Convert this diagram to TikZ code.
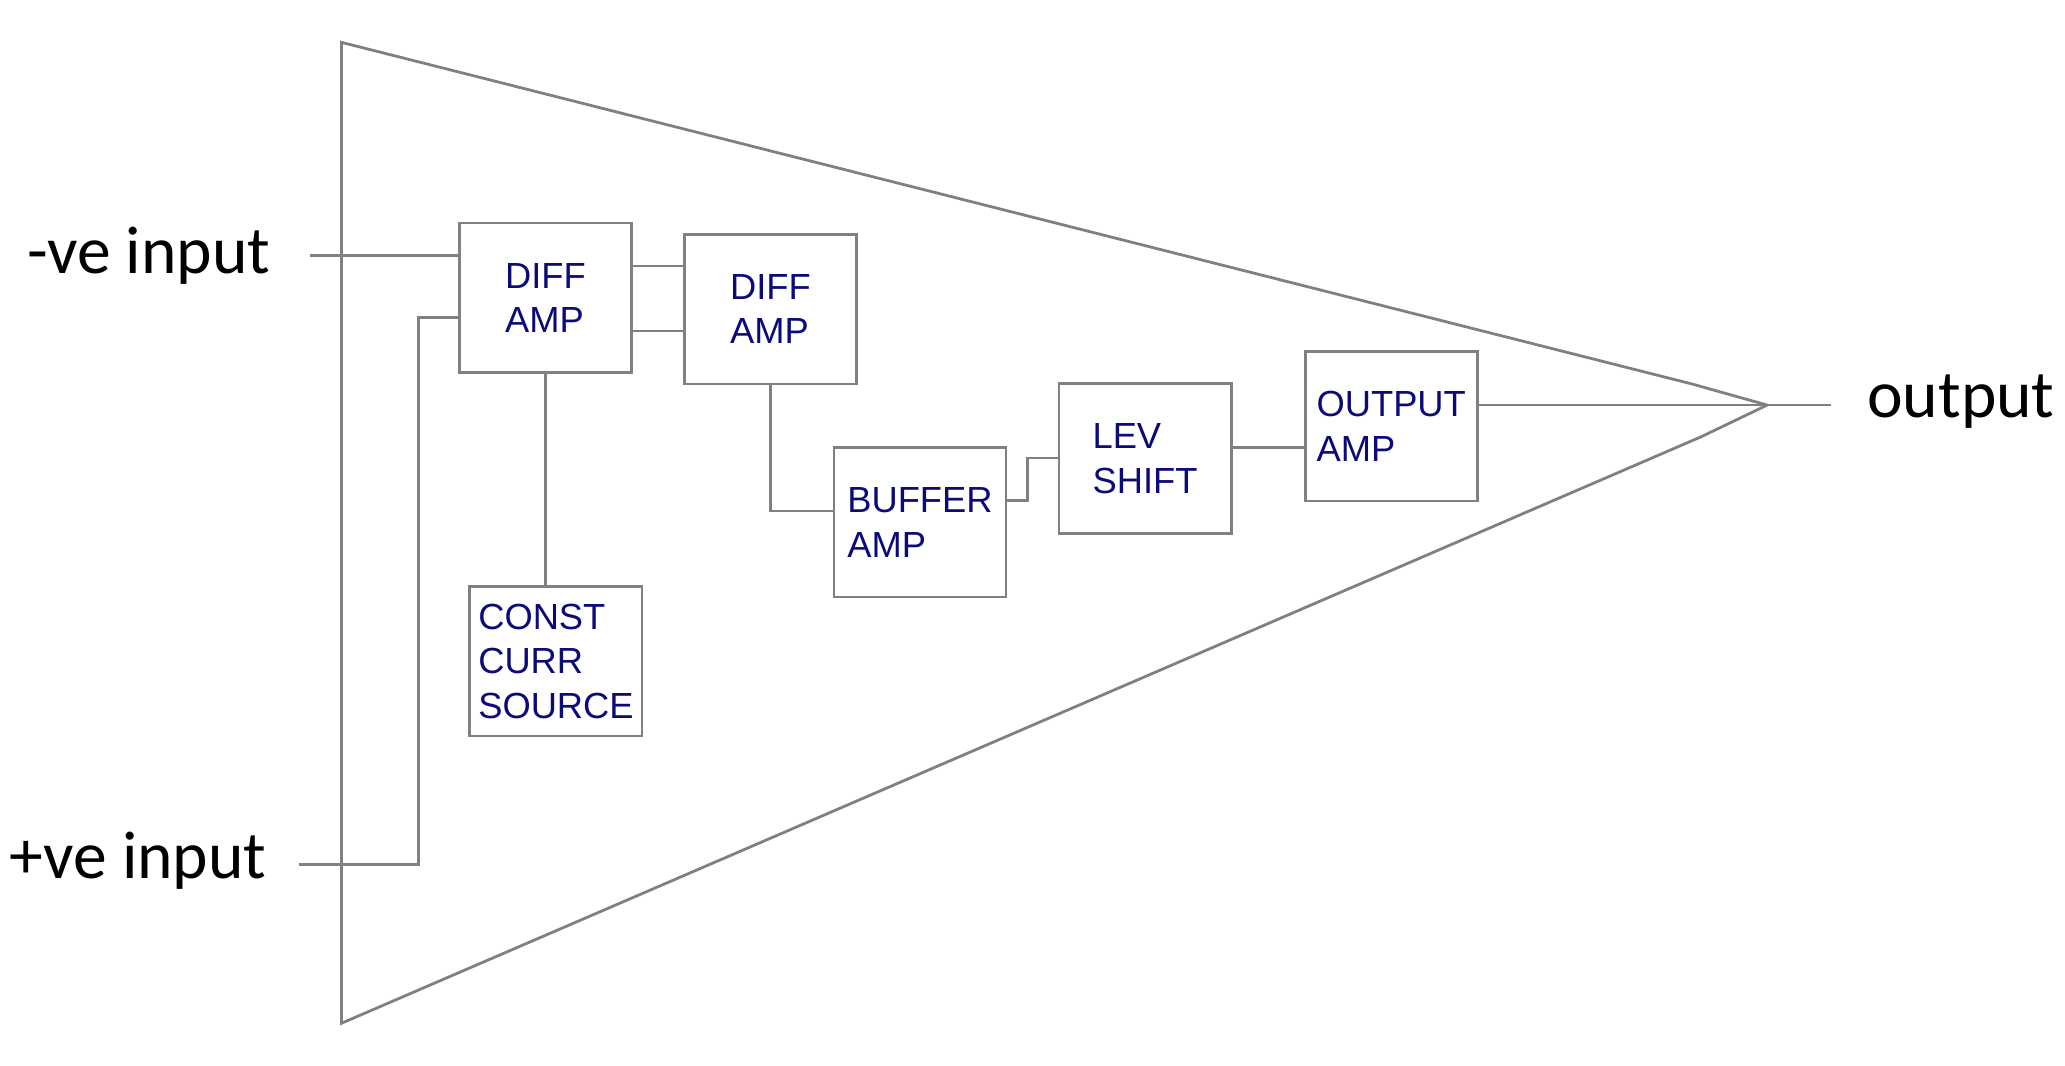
\documentclass[tikz,border=0pt]{standalone}
\usepackage{fontspec}
\setmainfont{Carlito}
\newfontfamily\boxfont{Liberation Sans}
\usetikzlibrary{positioning}
\definecolor{boxtext}{RGB}{10,10,120}
\definecolor{wire}{RGB}{128,128,128}

\begin{document}
\begin{tikzpicture}[x=0.01cm,y=-0.01cm,
  blk/.style={draw=wire, line width=0.6pt, minimum width=1.3cm, minimum height=1.13cm,
    align=left, inner sep=0pt, font=\boxfont\fontsize{7.8}{9.6}\selectfont, text=boxtext},
  lbl/.style={font=\fontsize{14.5}{17}\selectfont, inner sep=0pt},
  ln/.style={draw=wire, line width=0.6pt}]
\useasboundingbox (0,0) rectangle (1560,805);

% triangle outline
\draw[ln] (258,32) -- (258,773) -- (1285,330) -- (1335,306) -- (1278,290) -- cycle;

% blocks
\node[blk] (diffa) at (412,225) {DIFF\\AMP};
\node[blk] (diffb) at (582,233.5) {DIFF\\AMP};
\node[blk] (ccs) at (420,499.5) {CONST\\CURR\\SOURCE};
\node[blk] (buf) at (695,394.5) {BUFFER\\AMP};
\node[blk] (lev) at (865,346.5) {LEV\\SHIFT};
\node[blk] (outamp) at (1051,322) {OUTPUT\\AMP};

% labels
\node[lbl, anchor=east] (neg) at (205,193) {-ve input};
\node[lbl, anchor=east] (pos) at (202,650) {+ve input};
\node[lbl, anchor=west] (out) at (1410,303) {output};

\coordinate (negend) at (234,193);
\coordinate (posend) at (226,653);
\coordinate (outend) at (1383,306);

% wiring
\draw[ln] (negend) -- (negend -| diffa.west);
\draw[ln] (posend) -- (316,653) -- (316,240) -- (diffa.west |- 0,240);
\draw[ln] (diffa.east |- 0,201) -- (diffb.west |- 0,201);
\draw[ln] (diffa.east |- 0,250) -- (diffb.west |- 0,250);
\draw[ln] (diffa.south) -- (diffa.south |- ccs.north);
\draw[ln] (diffb.south) -- (582,386) -- (buf.west |- 0,386);
\draw[ln] (buf.east |- 0,378) -- (776,378) -- (776,346) -- (lev.west |- 0,346);
\draw[ln] (lev.east |- 0,338) -- (outamp.west |- 0,338);
\draw[ln] (outamp.east |- 0,306) -- (outend);
\end{tikzpicture}
\end{document}
